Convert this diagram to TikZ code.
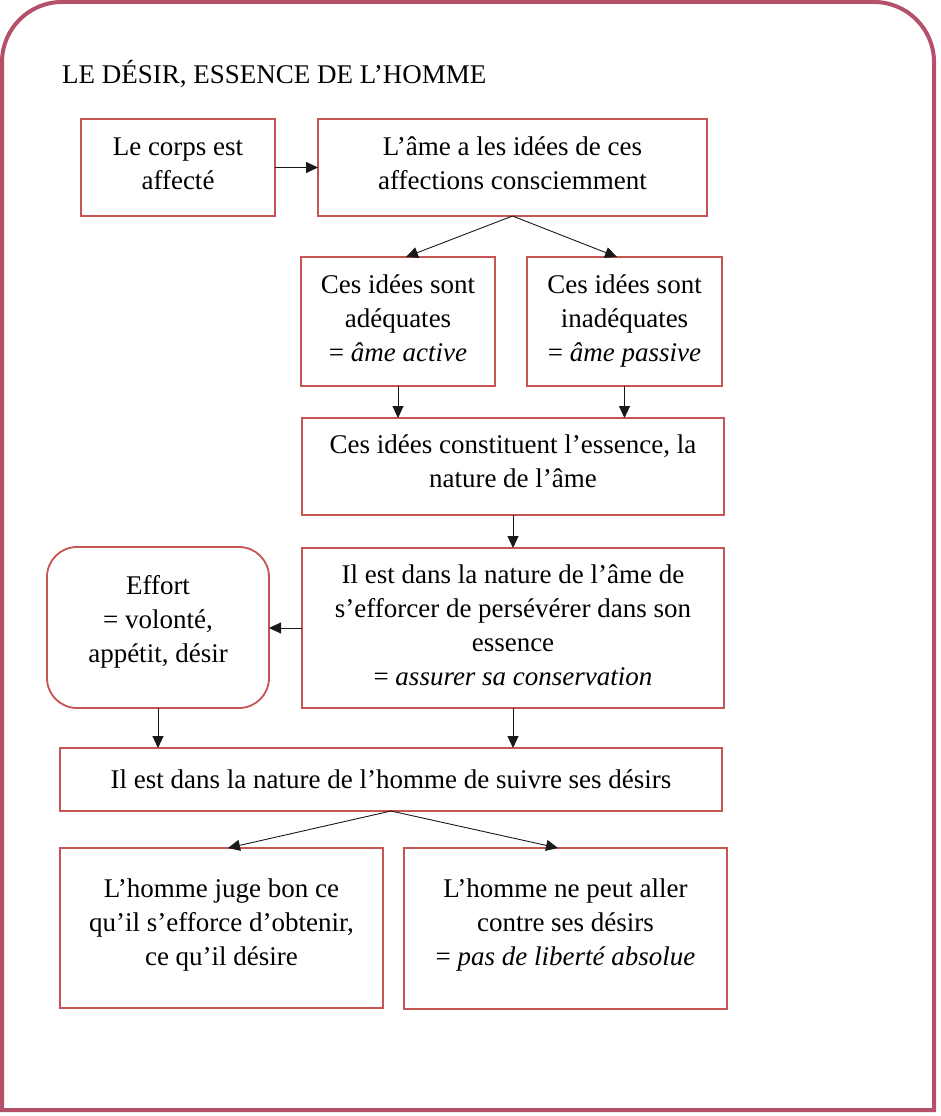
\documentclass[tikz,border=0pt]{standalone}
\usepackage{fontspec}
\setmainfont{Liberation Serif}
\usetikzlibrary{arrows.meta,calc}
\definecolor{framecol}{RGB}{180,80,105}
\definecolor{boxcol}{RGB}{198,84,80}
\definecolor{arrcol}{RGB}{25,25,25}
\tikzset{
  stepbox/.style={draw=boxcol, line width=1.8pt, rectangle, inner sep=0pt, outer sep=0pt},
  roundbox/.style={stepbox, rounded corners=30pt},
  txt/.style={align=center, inner sep=0pt, font=\fontsize{27}{34}\selectfont, yshift=-3pt},
  arr/.style={draw=arrcol, line width=0.9pt, -{Triangle[length=12pt,width=11pt]}},
}
\begin{document}
\begin{tikzpicture}[x=1pt,y=-1pt]
\useasboundingbox (0,0) rectangle (940,1116);
% frame
\draw[framecol, line width=4pt, line join=miter]
  (2,1110) -- (2,62) .. controls (2,28.9) and (28.9,2) .. (62,2)
  -- (874,2) .. controls (907.1,2) and (934,28.9) .. (934,62)
  -- (934,1110) -- cycle;
% title
\node[align=center, inner sep=0pt, font=\fontsize{27}{34}\selectfont, anchor=base west] (title) at (62,83) {LE DÉSIR, ESSENCE DE L’HOMME};
% boxes
\node[stepbox, minimum width=194pt, minimum height=97pt] (A) at (178,167.5) {};
\node[stepbox, minimum width=389pt, minimum height=97pt] (B) at (512.5,167.5) {};
\node[stepbox, minimum width=194pt, minimum height=129pt] (C) at (398,321.5) {};
\node[stepbox, minimum width=195pt, minimum height=129pt] (D) at (624.5,321.5) {};
\node[stepbox, minimum width=422pt, minimum height=97pt] (E) at (513,466.5) {};
\node[stepbox, minimum width=422pt, minimum height=160pt] (F) at (513,628) {};
\node[roundbox, minimum width=222pt, minimum height=161pt] (G) at (158,627.5) {};
\node[stepbox, minimum width=662pt, minimum height=63pt] (H) at (391,779.5) {};
\node[stepbox, minimum width=323pt, minimum height=160pt] (I) at (221.5,928) {};
\node[stepbox, minimum width=323pt, minimum height=161pt] (J) at (565.5,928.5) {};
% texts
\node[txt] (At) at (178,163) {\strut Le corps est\\affecté\strut};
\node[txt] (Bt) at (512.5,163) {\strut L’âme a les idées de ces\\affections consciemment\strut};
\node[txt] (Ct) at (398,318) {\strut Ces idées sont\\adéquates\\= \textit{âme active}\strut};
\node[txt] (Dt) at (624.5,318) {\strut Ces idées sont\\inadéquates\\= \textit{âme passive}\strut};
\node[txt] (Et) at (513,460.5) {\strut Ces idées constituent l’essence, la\\nature de l’âme\strut};
\node[txt] (Ft) at (513,625) {\strut Il est dans la nature de l’âme de\\s’efforcer de persévérer dans son\\essence\\= \textit{assurer sa conservation}\strut};
\node[txt] (Gt) at (158,619) {\strut Effort\\= volonté,\\appétit, désir\strut};
\node[txt] (Ht) at (391,779) {\strut Il est dans la nature de l’homme de suivre ses désirs\strut};
\node[txt] (It) at (221.5,922) {\strut L’homme juge bon ce\\qu’il s’efforce d’obtenir,\\ce qu’il désire\strut};
\node[txt] (Jt) at (565.5,922) {\strut L’homme ne peut aller\\contre ses désirs\\= \textit{pas de liberté absolue}\strut};
% connectors
\draw[arr] (A.east) -- (B.west);
\draw[arr] (B.south) -- ([xshift=8pt]C.north);
\draw[arr] (B.south) -- ([xshift=-7.5pt]D.north);
\draw[arr] (C.south) -- (C.south |- E.north);
\draw[arr] (D.south) -- (D.south |- E.north);
\draw[arr] (E.south) -- (E.south |- F.north);
\draw[arr] (F.west) -- (F.west -| G.east);
\draw[arr] (G.south) -- (G.south |- H.north);
\draw[arr] (F.south) -- (F.south |- H.north);
\draw[arr] (H.south) -- ([xshift=6.5pt]I.north);
\draw[arr] (H.south) -- ([xshift=-7.5pt]J.north);
\end{tikzpicture}
\end{document}
